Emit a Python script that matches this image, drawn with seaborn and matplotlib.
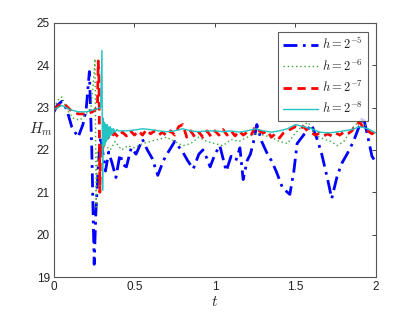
import numpy as np
import pandas as pd
import matplotlib
matplotlib.use("Agg")
import matplotlib.pyplot as plt
import seaborn as sns

# ---------------- data ----------------
t_b = [0, 0.02, 0.05, 0.08, 0.11, 0.15, 0.18, 0.2, 0.22, 0.235, 0.245, 0.25, 0.26, 0.275, 0.29,
       0.305, 0.32, 0.34, 0.36, 0.385, 0.41, 0.43, 0.45, 0.48, 0.51, 0.55, 0.58, 0.61, 0.645, 0.68,
       0.71, 0.75, 0.78, 0.8, 0.83, 0.865, 0.9, 0.925, 0.95, 0.97, 1.0, 1.03, 1.05, 1.07, 1.1, 1.13,
       1.155, 1.175, 1.2, 1.22, 1.24, 1.26, 1.29, 1.32, 1.35, 1.38, 1.42, 1.465, 1.49, 1.51, 1.55,
       1.6, 1.63, 1.66, 1.7, 1.725, 1.76, 1.79, 1.82, 1.86, 1.9, 1.92, 1.95, 1.975, 2.0]
y_b = [22.9, 23.05, 23.15, 22.95, 22.55, 22.3, 22.6, 22.95, 23.85, 22.0, 20.2, 19.3, 20.5, 21.6, 22.3,
       21.9, 21.5, 21.95, 21.7, 21.35, 21.9, 21.65, 21.6, 22.05, 21.9, 22.25, 22.0, 21.8, 21.4, 21.75,
       21.95, 22.2, 22.05, 21.95, 21.75, 21.55, 21.9, 22.0, 21.8, 21.6, 21.9, 22.1, 21.8, 21.5, 21.85, 21.75,
       22.05, 21.3, 21.75, 21.9, 22.2, 22.6, 22.2, 21.95, 21.75, 21.5, 21.1, 20.95, 21.5, 22.15, 22.35,
       22.6, 22.3, 21.95, 21.3, 20.85, 21.4, 21.7, 21.9, 22.2, 22.6, 22.8, 22.3, 21.85, 21.7]

t_g = [0, 0.03, 0.05, 0.08, 0.12, 0.16, 0.2, 0.23, 0.245, 0.255, 0.262, 0.27, 0.285, 0.3, 0.32,
       0.35, 0.38, 0.42, 0.46, 0.5, 0.55, 0.6, 0.65, 0.7, 0.75, 0.8, 0.85, 0.9, 0.95, 1.0, 1.05,
       1.1, 1.15, 1.2, 1.26, 1.3, 1.35, 1.4, 1.45, 1.5, 1.55, 1.58, 1.62, 1.68, 1.72, 1.76, 1.8,
       1.85, 1.9, 1.93, 1.96, 2.0]
y_g = [23.0, 23.2, 23.25, 22.95, 22.75, 22.7, 22.85, 23.0, 23.6, 24.15, 20.65, 22.0, 21.9, 22.2, 22.1,
       22.0, 22.2, 22.0, 22.1, 22.05, 22.15, 22.2, 22.25, 22.3, 22.2, 22.1, 22.15, 22.3, 22.2, 22.15, 22.1,
       22.25, 22.2, 22.3, 22.4, 22.35, 22.3, 22.2, 22.15, 22.4, 22.6, 22.65, 22.35, 22.25, 22.2, 22.1,
       22.2, 22.5, 22.7, 22.6, 22.45, 22.4]

t_r = [0, 0.03, 0.06, 0.1, 0.15, 0.2, 0.24, 0.27, 0.275, 0.28, 0.285, 0.29,
       0.3, 0.325, 0.35, 0.375, 0.4, 0.425, 0.45, 0.475, 0.5, 0.525, 0.55, 0.575, 0.6, 0.625,
       0.65, 0.675, 0.7, 0.725, 0.75, 0.775, 0.8, 0.825, 0.85, 0.875, 0.9, 0.925, 0.95, 0.975,
       1.0, 1.025, 1.05, 1.075, 1.1, 1.125, 1.15, 1.175, 1.2, 1.225, 1.25, 1.275, 1.3, 1.325,
       1.35, 1.375, 1.4, 1.425, 1.45, 1.475, 1.5, 1.525, 1.55, 1.575, 1.6, 1.625, 1.65, 1.675,
       1.7, 1.725, 1.75, 1.775, 1.8, 1.825, 1.85, 1.875, 1.9, 1.925, 1.95, 1.975, 2.0]
y_r = [22.95, 23.05, 23.1, 22.95, 22.85, 22.85, 22.9, 23.0, 24.1, 23.6, 21.0, 22.1,
       22.0, 22.35, 22.25, 22.4, 22.3, 22.42, 22.33, 22.45, 22.35, 22.45, 22.35, 22.48, 22.38, 22.45,
       22.35, 22.42, 22.33, 22.45, 22.35, 22.55, 22.6, 22.3, 22.45, 22.3, 22.42, 22.3, 22.45, 22.32,
       22.45, 22.35, 22.48, 22.35, 22.45, 22.33, 22.45, 22.35, 22.42, 22.35, 22.55, 22.45, 22.4, 22.45,
       22.3, 22.38, 22.28, 22.4, 22.45, 22.5, 22.55, 22.5, 22.55, 22.45, 22.4, 22.35, 22.4, 22.33,
       22.38, 22.33, 22.4, 22.35, 22.42, 22.38, 22.45, 22.6, 22.65, 22.5, 22.45, 22.38, 22.45]

t_c = [0, 0.05, 0.1, 0.15, 0.2, 0.25, 0.29, 0.298, 0.302, 0.306, 0.31, 0.314, 0.318, 0.322, 0.326,
       0.33, 0.335, 0.34, 0.345, 0.35, 0.355, 0.36, 0.365, 0.37, 0.38, 0.39, 0.4, 0.45, 0.5, 0.55,
       0.6, 0.65, 0.7, 0.75, 0.8, 0.85, 0.9, 0.95, 1.0, 1.05, 1.1, 1.15, 1.2, 1.25, 1.3, 1.35, 1.4,
       1.45, 1.5, 1.55, 1.6, 1.65, 1.7, 1.75, 1.8, 1.85, 1.9, 1.95, 2.0]
y_c = [22.95, 23.05, 22.95, 22.9, 22.9, 22.95, 23.0, 24.35, 21.05, 22.75, 22.1, 22.65, 22.15, 22.6, 22.2,
       22.6, 22.25, 22.55, 22.3, 22.55, 22.35, 22.5, 22.38, 22.5, 22.42, 22.48, 22.45, 22.45, 22.47, 22.5,
       22.48, 22.45, 22.43, 22.45, 22.5, 22.45, 22.43, 22.45, 22.45, 22.43, 22.45, 22.42, 22.45, 22.5, 22.45,
       22.42, 22.45, 22.5, 22.6, 22.55, 22.5, 22.42, 22.4, 22.42, 22.45, 22.48, 22.55, 22.5, 22.4]

labels = [r"$h=2^{-5}$", r"$h=2^{-6}$", r"$h=2^{-7}$", r"$h=2^{-8}$"]
x_ticks = [0, 0.5, 1, 1.5, 2]
x_ticklabels = ["0", "0.5", "1", "1.5", "2"]
y_ticks = [19, 20, 21, 22, 23, 24, 25]

# ---------------- plot ----------------
sns.set_theme(style="white")
plt.rcParams["font.family"] = ["Liberation Sans", "DejaVu Sans"]
plt.rcParams["mathtext.fontset"] = "cm"

fig = plt.figure(figsize=(4.15, 3.13), dpi=100)
ax = fig.add_axes([0.130, 0.115, 0.776, 0.812])

styles = [
    (t_b, y_b, "#0000ff", (0, (5, 2, 1, 2)), 2.0),
    (t_g, y_g, "#3aa63a", (0, (1, 2)), 1.0),
    (t_r, y_r, "#ff0000", (0, (3, 2)), 2.0),
    (t_c, y_c, "#22c4c4", "-", 1.0),
]
for (tx, ty, col, ls, lw), lab in zip(styles, labels):
    df = pd.DataFrame({"t": tx, "H": ty})
    sns.lineplot(data=df, x="t", y="H", ax=ax, color=col, linestyle=ls,
                 linewidth=lw, label=lab, estimator=None, sort=False)

ax.set_xlim(0, 2)
ax.set_ylim(19, 25)
ax.set_xticks(x_ticks)
ax.set_xticklabels(x_ticklabels)
ax.set_yticks(y_ticks)
ax.tick_params(direction="in", length=3, width=0.6, top=True, right=True,
               labelsize=8.5, colors="#222222", pad=3)
for s in ax.spines.values():
    s.set_color("#555555")
    s.set_linewidth(0.8)

ax.set_xlabel(r"$t$", fontsize=11)
ax.xaxis.set_label_coords(0.5, -0.07)
ax.set_ylabel(r"$H_m$", fontsize=11, rotation=0, va="center", ha="center")
ax.yaxis.set_label_coords(-0.04, 0.58)

leg = ax.legend(loc="upper right", fontsize=9, frameon=True, fancybox=False,
                handlelength=2.8, handletextpad=0.3, borderpad=0.4, labelspacing=0.5,
                bbox_to_anchor=(0.995, 0.99))
leg.get_frame().set_edgecolor("#333333")
leg.get_frame().set_linewidth(0.8)

fig.savefig("out.png", dpi=100)
